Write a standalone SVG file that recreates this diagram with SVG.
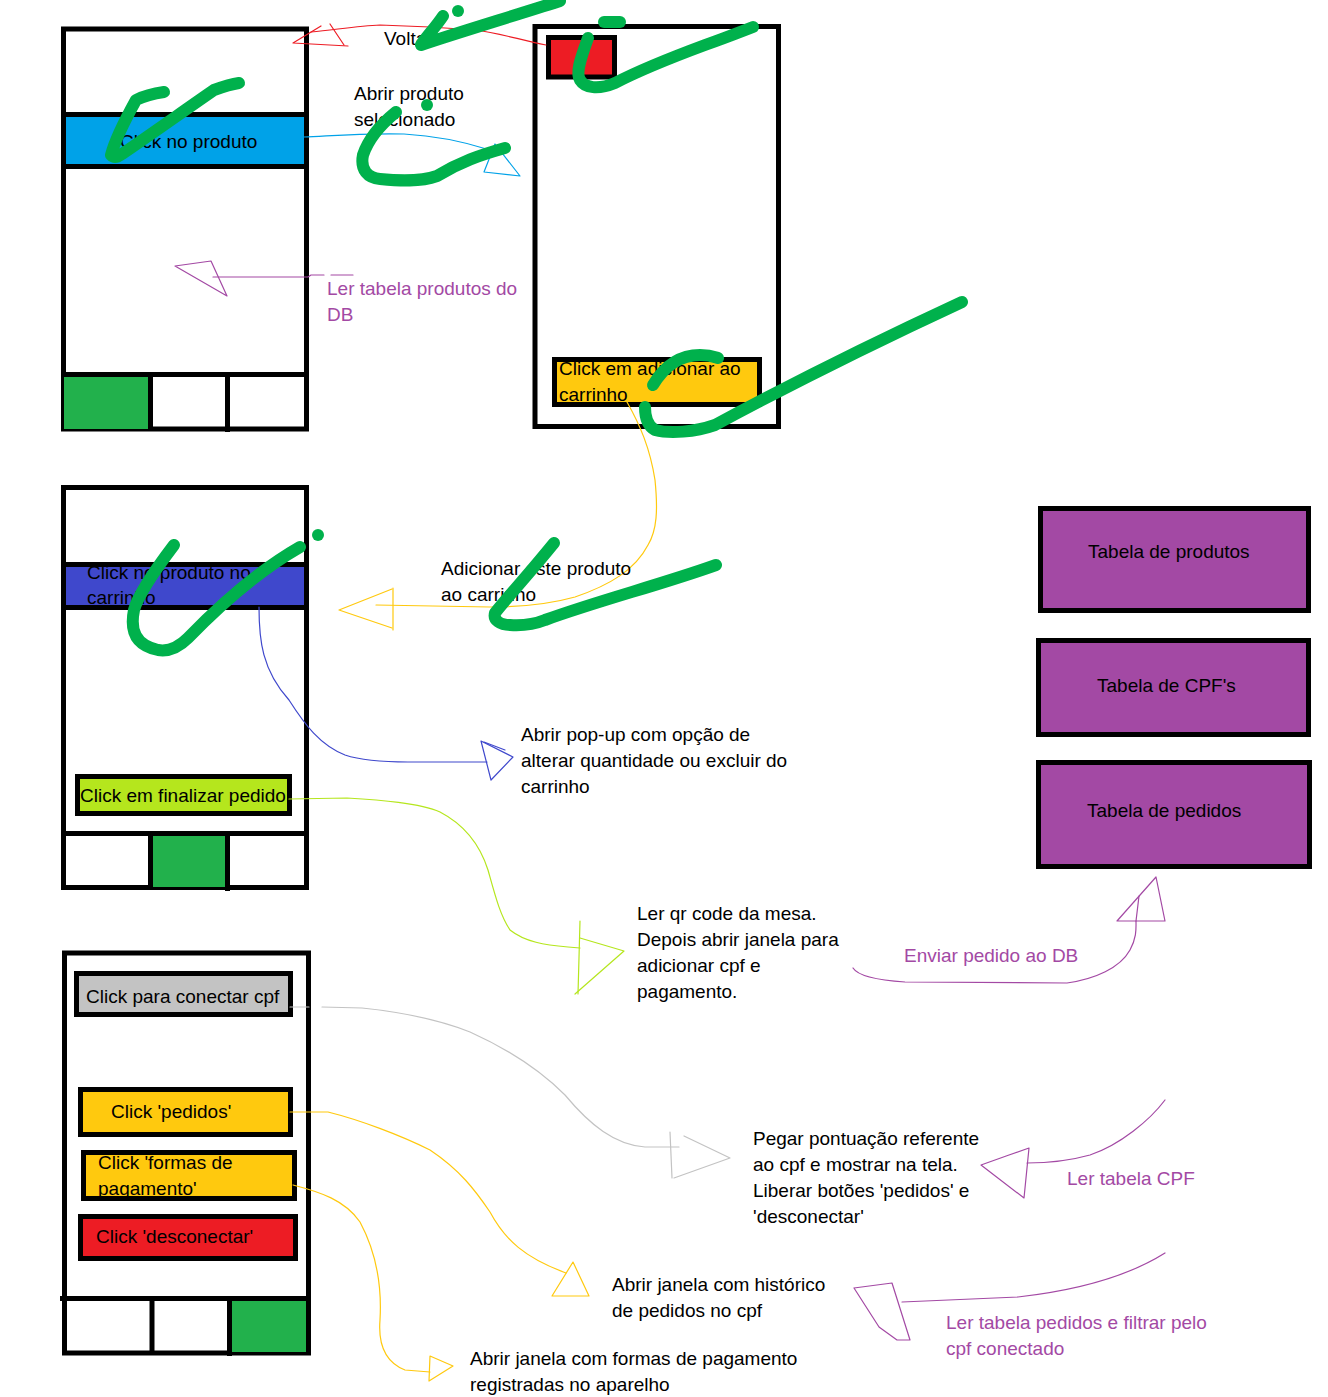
<svg xmlns="http://www.w3.org/2000/svg" width="1328" height="1397" viewBox="0 0 1328 1397">
<style>
text{font-family:"Liberation Sans",Arial,sans-serif;font-size:19px;fill:#000}
text.p{fill:#A349A4}
.frame{fill:#fff;stroke:#000;stroke-width:5}
.bx{stroke:#000;stroke-width:5}
.ln{stroke:#000;stroke-width:5;fill:none}
.c{fill:none;stroke-width:1.2;stroke-linejoin:round;stroke-linecap:round}
.mk{fill:none;stroke:#00B14C;stroke-width:12;stroke-linecap:round;stroke-linejoin:round}
</style>
<rect width="1328" height="1397" fill="#fff"/>

<g id="phone1">
<rect class="frame" x="63.5" y="29" width="243" height="400"/>
<rect class="bx" x="63.5" y="114.5" width="243" height="52" fill="#00A2E8"/>
<text x="120" y="148">Click no produto</text>
<rect x="64" y="377" width="85" height="52" fill="#22B14C"/>
<line class="ln" x1="61" y1="374.5" x2="309" y2="374.5"/>
<line class="ln" x1="150.5" y1="374" x2="150.5" y2="430"/>
<line class="ln" x1="227.5" y1="374" x2="227.5" y2="432"/>
</g>

<g id="phone2">
<rect class="frame" x="535" y="26.5" width="243.5" height="400"/>
<rect class="bx" x="548.5" y="37.5" width="66" height="39.5" fill="#ED1C24"/>
<rect class="bx" x="554.5" y="359.5" width="205" height="45" fill="#FFC90E"/>
<text x="559" y="375">Click em adicionar ao</text>
<text x="559" y="401">carrinho</text>
</g>

<g id="phone3">
<rect class="frame" x="63.5" y="487.5" width="243" height="400"/>
<rect class="bx" x="63.5" y="564.5" width="243" height="43" fill="#3F48CC"/>
<text x="87" y="579">Click no produto no</text>
<text x="87" y="604">carrinho</text>
<rect class="bx" x="77.5" y="776.5" width="212" height="37" fill="#B5E61D"/>
<text x="80" y="802">Click em finalizar pedido</text>
<rect x="153" y="836" width="72" height="51" fill="#22B14C"/>
<line class="ln" x1="61" y1="833.5" x2="309" y2="833.5"/>
<line class="ln" x1="150.5" y1="833" x2="150.5" y2="889"/>
<line class="ln" x1="227.5" y1="833" x2="227.5" y2="891"/>
</g>

<g id="phone4">
<rect class="frame" x="64.5" y="953" width="244" height="400"/>
<rect class="bx" x="76.5" y="973.5" width="214" height="41" fill="#C3C3C3"/>
<text x="86" y="1003">Click para conectar cpf</text>
<rect class="bx" x="80.5" y="1089.5" width="210" height="45" fill="#FFC90E"/>
<text x="111" y="1118">Click 'pedidos'</text>
<rect class="bx" x="83.5" y="1152.5" width="211" height="46" fill="#FFC90E"/>
<text x="98" y="1169">Click 'formas de</text>
<text x="98" y="1195">pagamento'</text>
<rect x="83.5" y="1152.5" width="211" height="46" fill="none" stroke="#000" stroke-width="5"/>
<rect class="bx" x="80.5" y="1216.5" width="215" height="42" fill="#ED1C24"/>
<text x="96" y="1243">Click 'desconectar'</text>
<rect x="232" y="1301" width="74" height="51" fill="#22B14C"/>
<line class="ln" x1="60" y1="1298.5" x2="311" y2="1298.5"/>
<line class="ln" x1="152" y1="1298" x2="152" y2="1353"/>
<line class="ln" x1="229.5" y1="1298" x2="229.5" y2="1356"/>
</g>

<g id="db-produtos">
<rect class="bx" x="1040.5" y="508.5" width="268" height="102" fill="#A349A4"/>
<text x="1088" y="558">Tabela de produtos</text>
</g>
<g id="db-cpfs">
<rect class="bx" x="1038.5" y="640.5" width="270" height="94" fill="#A349A4"/>
<text x="1097" y="692">Tabela de CPF's</text>
</g>
<g id="db-pedidos">
<rect class="bx" x="1038.5" y="762.5" width="271" height="104" fill="#A349A4"/>
<text x="1087" y="817">Tabela de pedidos</text>
</g>

<g id="connectors">
<path class="c" stroke="#ED1C24" d="M546,45 C520,40 500,33 475,30 L430,27 L380,25 C360,26 340,29 311,32"/>
<polyline class="c" stroke="#ED1C24" points="348,46 293,43 321,26"/>
<line class="c" stroke="#ED1C24" x1="330" y1="24" x2="344" y2="45"/>
<path class="c" stroke="#00A2E8" d="M304,137 C330,136 360,133 404,134 C440,136 465,142 490,150"/>
<polygon class="c" stroke="#00A2E8" points="495,144 484,172 520,176"/>
<path class="c" stroke="#A349A4" d="M353,275 L331,275 M324,275 L311,275 L308,277 L213,277"/>
<polygon class="c" stroke="#A349A4" points="175,266 211,261 227,296"/>
<path class="c" stroke="#FFC90E" d="M627,402 C640,425 650,448 655,480 C658,510 657,530 648,545 C635,570 610,585 575,597 C550,604 520,607 490,607 L376,605"/>
<polyline class="c" stroke="#FFC90E" points="392,589 339,610 392,628"/>
<line class="c" stroke="#FFC90E" x1="393" y1="588" x2="393" y2="630"/>
<path class="c" stroke="#3F48CC" d="M259,607 C259,640 262,670 289,700 C305,725 320,745 345,755 C360,760 380,762 408,762 L487,762"/>
<polygon class="c" stroke="#3F48CC" points="481,741 513,757 491,780"/>
<line class="c" stroke="#3F48CC" x1="484" y1="742" x2="505" y2="750"/>
<path class="c" stroke="#B5E61D" d="M289,799 L347,798 C380,800 420,803 440,812 C465,825 480,845 488,870 C495,895 500,915 510,930 C525,942 545,945 568,947 L580,948"/>
<line class="c" stroke="#B5E61D" x1="580" y1="921" x2="578" y2="994"/>
<polyline class="c" stroke="#B5E61D" points="580,938 624,951 575,994"/>
<path class="c" stroke="#C3C3C3" d="M290,1007 L309,1007 M322,1007 L362,1008 C400,1012 440,1020 470,1032 C510,1050 540,1070 565,1095 C590,1125 615,1145 645,1147 L679,1147"/>
<line class="c" stroke="#C3C3C3" x1="670" y1="1132" x2="672" y2="1178"/>
<polyline class="c" stroke="#C3C3C3" points="684,1136 730,1158 674,1178"/>
<path class="c" stroke="#FFC90E" d="M290,1112 L328,1112 C360,1120 400,1135 430,1150 C460,1170 475,1190 490,1212 C505,1240 525,1258 566,1273"/>
<polygon class="c" stroke="#FFC90E" points="573,1262 552,1296 589,1296"/>
<path class="c" stroke="#FFC90E" d="M293,1185 C320,1192 345,1200 360,1222 C375,1250 382,1285 380,1320 C378,1345 385,1362 405,1370 L430,1372"/>
<polygon class="c" stroke="#FFC90E" points="430,1356 453,1366 429,1381"/>
<path class="c" stroke="#A349A4" d="M853,968 C858,976 875,980 905,982 L1067,983 C1095,979 1120,968 1130,950 C1137,937 1136,928 1136,921"/>
<polygon class="c" stroke="#A349A4" points="1117,921 1156,877 1165,921"/>
<line class="c" stroke="#A349A4" x1="1139" y1="896" x2="1136" y2="921"/>
<path class="c" stroke="#A349A4" d="M1165,1100 C1150,1120 1120,1145 1090,1155 C1065,1162 1045,1163 1027,1163"/>
<polyline class="c" stroke="#A349A4" points="1029,1148 1024,1198 981,1165 1009,1155 1029,1148"/>
<path class="c" stroke="#A349A4" d="M1165,1253 C1130,1275 1080,1290 1018,1297 C980,1299 940,1300 902,1302"/>
<polyline class="c" stroke="#A349A4" points="854,1288 892,1283 910,1340 897,1340 879,1327 854,1288"/>
</g>

<g id="labels">
<text x="384" y="45">Voltar</text>
<text x="354" y="100">Abrir produto</text>
<text x="354" y="126">selecionado</text>
<text class="p" x="327" y="295">Ler tabela produtos do</text>
<text class="p" x="327" y="321">DB</text>
<text x="441" y="575">Adicionar este produto</text>
<text x="441" y="601">ao carrinho</text>
<text x="521" y="741">Abrir pop-up com opção de</text>
<text x="521" y="767">alterar quantidade ou excluir do</text>
<text x="521" y="793">carrinho</text>
<text x="637" y="920">Ler qr code da mesa.</text>
<text x="637" y="946">Depois abrir janela para</text>
<text x="637" y="972">adicionar cpf e</text>
<text x="637" y="998">pagamento.</text>
<text class="p" x="904" y="962">Enviar pedido ao DB</text>
<text x="753" y="1145">Pegar pontuação referente</text>
<text x="753" y="1171">ao cpf e mostrar na tela.</text>
<text x="753" y="1197">Liberar botões 'pedidos' e</text>
<text x="753" y="1223">'desconectar'</text>
<text class="p" x="1067" y="1185">Ler tabela CPF</text>
<text x="612" y="1291">Abrir janela com histórico</text>
<text x="612" y="1317">de pedidos no cpf</text>
<text class="p" x="946" y="1329">Ler tabela pedidos e filtrar pelo</text>
<text class="p" x="946" y="1355">cpf conectado</text>
<text x="470" y="1365">Abrir janela com formas de pagamento</text>
<text x="470" y="1391">registradas no aparelho</text>
</g>

<g id="checkmarks">
<path class="mk" d="M443,16 C435,28 425,38 421,45 C450,35 500,20 560,1"/>
<circle cx="458" cy="11" r="6" fill="#00B14C"/>
<path class="mk" d="M604,22 L620,22"/>
<path class="mk" d="M588,38 C582,55 575,72 580,80 C585,88 598,90 615,83 C640,70 670,58 705,45 C725,38 740,32 753,27"/>
<path class="mk" d="M653,385 C665,365 680,355 700,355 C710,355 715,357 718,358"/>
<path class="mk" d="M645,407 C645,415 646,425 655,430 C670,434 695,432 715,425 C780,390 880,340 962,302"/>
<path class="mk" d="M174,545 C155,570 138,595 134,610 C130,630 135,645 158,650 C170,652 180,646 188,638 C220,605 260,570 300,547"/>
<circle cx="318" cy="535" r="6" fill="#00B14C"/>
<path class="mk" d="M554,543 C528,575 505,600 495,613 C493,620 500,625 510,625 C525,626 535,624 545,620 C600,600 660,585 716,565"/>
<path class="mk" d="M164,92 C150,94 140,98 136,100 C125,120 115,140 111,155 C114,158 118,157 122,154 C150,135 185,110 214,90 C225,86 232,84 239,83"/>
<path class="mk" d="M396,112 C380,125 368,140 363,155 C360,170 368,178 380,179 C400,181 420,182 437,176 C460,162 480,155 505,148"/>
<circle cx="427" cy="105" r="6" fill="#00B14C"/>
</g>
</svg>
